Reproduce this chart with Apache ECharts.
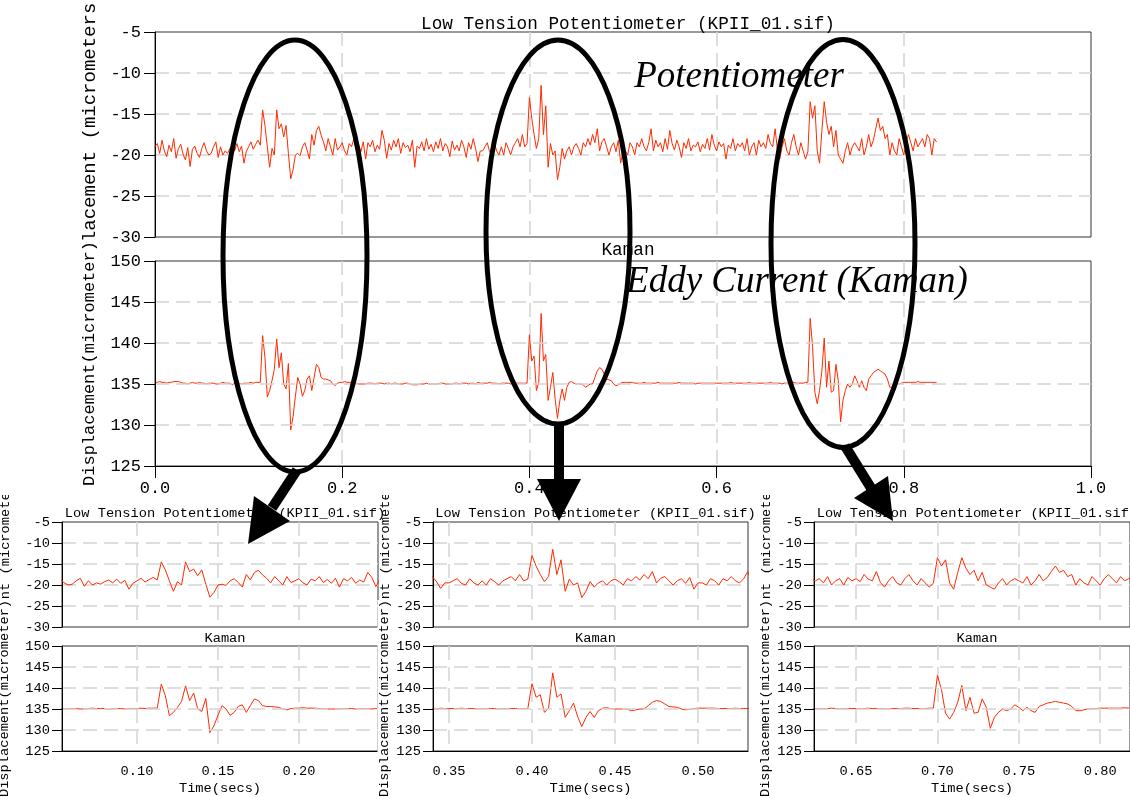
<!DOCTYPE html>
<html>
<head>
<meta charset="utf-8">
<title>Low Tension Potentiometer vs Kaman</title>
<script src="https://cdn.jsdelivr.net/npm/echarts@6/dist/echarts.min.js"></script>
<style>
  html, body { margin: 0; padding: 0; background: #fff; }
  #chart { width: 1130px; height: 799px; }
</style>
</head>
<body>
<div id="chart"></div>
<script>
// Sample spacing of both recordings (seconds)
const TIME_STEP = 0.0025;

// Low tension potentiometer displacement, one row per 0.05 s
const potentiometer = [
  -19.0,-18.6,-19.8,-18.2,-19.5,-20.2,-18.8,-19.6,-18.0,-20.4,-19.2,-18.7,-19.9,-20.6,-19.1,-21.4,-19.3,-18.9,-19.8,-20.3,
  -19.2,-18.5,-19.5,-20.0,-19.8,-19.0,-18.4,-20.3,-19.0,-20.0,-19.5,-19.8,-19.2,-18.8,-19.5,-18.6,-19.6,-18.9,-21.0,-19.6,
  -19.0,-18.4,-19.3,-18.7,-18.2,-18.8,-14.5,-16.4,-19.0,-21.5,-19.2,-20.0,-14.5,-16.8,-16.2,-17.8,-16.4,-19.8,-22.9,-21.8,
  -20.0,-19.8,-20.1,-19.0,-18.5,-19.4,-20.5,-17.5,-18.8,-17.0,-16.5,-17.6,-18.4,-19.5,-18.0,-19.0,-20.0,-18.0,-19.4,-19.0,
  -18.5,-19.5,-20.0,-18.6,-19.0,-18.0,-19.4,-18.7,-19.6,-18.4,-20.5,-18.5,-19.0,-18.2,-19.6,-18.8,-19.3,-17.0,-18.2,-20.4,
  -18.6,-19.4,-18.2,-19.0,-18.0,-19.8,-18.5,-19.1,-18.8,-19.6,-18.2,-21.5,-18.9,-19.2,-18.4,-19.5,-18.0,-19.3,-18.7,-19.6,
  -18.4,-19.2,-18.0,-19.5,-18.6,-19.0,-20.2,-18.3,-19.4,-18.8,-19.5,-18.2,-19.0,-20.3,-18.5,-19.3,-18.0,-19.2,-20.8,-19.5,
  -19.5,-19.0,-18.5,-19.6,-20.0,-18.5,-19.5,-20.0,-19.0,-20.0,-18.5,-19.2,-20.0,-19.0,-18.5,-18.0,-19.0,-17.5,-19.0,-18.6,
  -13.0,-15.5,-17.5,-19.2,-18.0,-11.5,-17.5,-14.0,-21.5,-18.6,-20.0,-19.5,-23.0,-21.5,-19.2,-20.5,-19.5,-19.0,-20.0,-19.0,
  -18.6,-19.2,-20.0,-18.5,-19.0,-18.0,-18.8,-17.5,-18.5,-16.8,-19.5,-18.4,-18.0,-19.0,-20.0,-19.0,-18.5,-19.6,-18.2,-21.0,
  -19.5,-19.5,-20.0,-18.5,-19.0,-20.0,-18.5,-19.0,-18.0,-19.0,-19.5,-18.5,-16.8,-19.5,-18.2,-19.0,-18.5,-19.6,-18.0,-19.3,
  -17.0,-18.6,-19.4,-18.2,-19.0,-20.3,-18.5,-19.2,-18.0,-19.5,-18.8,-19.0,-18.4,-19.6,-18.7,-19.2,-18.0,-19.4,-17.5,-18.8,
  -19.5,-18.4,-19.0,-18.6,-20.5,-18.8,-19.2,-18.0,-19.5,-18.6,-19.0,-18.5,-19.5,-18.0,-20.0,-19.0,-18.5,-20.0,-18.2,-19.0,
  -18.5,-19.2,-17.5,-18.6,-19.0,-16.8,-19.4,-20.5,-19.0,-18.0,-19.5,-20.0,-18.5,-17.5,-19.0,-20.0,-18.5,-19.5,-20.5,-19.6,
  -13.5,-15.5,-14.0,-19.5,-21.0,-17.0,-13.5,-16.0,-17.5,-16.5,-19.0,-17.0,-20.0,-20.5,-21.0,-19.5,-18.5,-20.0,-19.0,-18.5,
  -19.0,-19.5,-18.0,-20.0,-19.0,-17.5,-19.0,-18.2,-16.8,-15.5,-17.0,-16.5,-18.0,-17.5,-20.0,-18.5,-19.5,-20.0,-18.0,-19.0,
  -20.0,-18.5,-17.5,-18.5,-19.5,-18.0,-19.0,-18.5,-18.0,-19.0,-17.5,-18.0,-20.0,-18.0,-18.4
];

// Kaman eddy current displacement, same time base
const kaman = [
  135.2,135.2,135.3,135.2,135.2,135.1,135.2,135.2,135.3,135.3,135.3,135.2,135.1,135.1,135.0,135.1,135.2,135.1,135.1,135.2,
  135.1,135.1,135.0,135.1,135.1,135.1,135.0,135.0,135.1,135.2,135.1,135.1,135.1,134.9,135.1,135.1,135.1,135.0,135.1,135.1,
  135.1,135.2,135.1,135.2,135.2,135.2,140.9,138.2,133.4,134.2,135.4,136.8,140.5,137.0,138.8,135.0,134.4,137.5,129.4,131.0,
  133.5,135.8,135.0,133.5,134.2,135.6,136.0,134.2,135.8,137.4,137.0,135.8,135.6,135.6,135.5,135.4,135.0,134.8,135.1,135.2,
  135.2,135.3,135.2,135.2,135.2,135.1,135.1,135.0,135.0,135.0,135.0,135.1,135.1,135.1,135.0,135.1,135.1,135.1,135.0,135.1,
  135.1,135.0,135.1,135.1,135.0,135.0,135.0,135.1,135.1,135.0,134.9,134.9,134.9,135.0,135.0,135.0,135.1,135.0,135.0,135.0,
  135.0,135.0,135.1,135.1,135.0,135.0,135.0,135.0,135.1,135.1,135.0,135.1,135.1,135.1,135.0,135.1,135.1,135.0,135.2,135.1,
  135.1,135.1,135.1,135.2,135.1,135.1,135.1,135.0,135.1,135.1,135.1,135.1,135.0,135.1,135.1,135.1,135.1,135.1,135.1,135.1,
  141.0,137.8,138.4,134.2,135.2,143.6,137.8,138.6,133.0,134.6,136.4,133.2,130.8,133.0,134.4,133.0,134.6,135.2,135.3,135.1,
  135.0,135.0,135.0,134.9,134.6,134.8,135.0,135.0,135.8,136.6,137.0,136.8,136.2,135.6,135.5,135.4,135.0,134.8,134.9,135.1,
  135.2,135.2,135.2,135.2,135.2,135.1,135.1,135.1,135.1,135.2,135.1,135.1,135.1,135.1,135.1,135.2,135.1,135.1,135.1,135.1,
  135.1,135.1,135.1,135.1,135.2,135.1,135.1,135.1,135.1,135.1,135.1,135.0,135.1,135.1,135.1,135.1,135.1,135.1,135.1,135.1,
  135.1,135.1,135.1,135.1,135.1,135.1,135.2,135.1,135.1,135.1,135.1,135.1,135.1,135.1,135.2,135.1,135.1,135.1,135.1,135.1,
  135.1,135.1,135.1,135.2,135.1,135.1,135.1,135.1,135.0,135.1,135.1,135.1,135.2,135.2,135.1,135.1,135.1,135.1,135.2,135.2,
  143.0,139.6,134.0,132.6,134.2,136.6,140.6,134.6,137.8,134.0,134.2,137.4,135.4,130.4,133.0,134.2,135.0,134.6,135.0,136.0,
  135.4,134.6,135.4,134.6,134.2,135.6,136.0,136.4,136.6,136.8,136.6,136.4,136.2,135.6,134.6,134.6,134.8,135.0,135.0,135.1,
  135.2,135.2,135.2,135.2,135.2,135.2,135.3,135.2,135.2,135.2,135.2,135.2,135.2,135.2,135.2
];

// Axis extents
const mainTimeRange = [0, 1];
const detailTimeRanges = [[0.0537, 0.2488], [0.3404, 0.5301], [0.6242, 0.8183]];
const potentiometerRange = [-30, -5];
const kamanRange = [125, 150];

// Texts
const potentiometerTitle = 'Low Tension Potentiometer (KPII_01.sif)';
const kamanTitle = 'Kaman';
const potentiometerAxisName = 'Displacement (micrometers)';
const kamanAxisName = 'Displacement(micrometer)';
const timeAxisName = 'Time(secs)';
const calloutLabels = ['Potentiometer', 'Eddy Current (Kaman)'];

// ---------------------------------------------------------------------------
const MONO = '"Liberation Mono", "DejaVu Sans Mono", monospace';
const LINE_COLOR = '#ff2a00';
const GRID_LINE = { color: '#d4d4d4', type: [14, 7], width: 1.5 };

const potSeriesData = potentiometer.map((v, i) => [+(i * TIME_STEP).toFixed(4), v]);
const kamanSeriesData = kaman.map((v, i) => [+(i * TIME_STEP).toFixed(4), v]);

const option = {
  animation: false,
  backgroundColor: '#fff',
  title: [],
  grid: [],
  xAxis: [],
  yAxis: [],
  series: [],
  graphic: []
};

// One stacked pair of plots (potentiometer above, Kaman below)
function addPair(p) {
  const gTop = option.grid.length;
  const gBot = gTop + 1;
  [p.topY, p.botY].forEach(function (top) {
    option.grid.push({
      left: p.left, top: top, width: p.width, height: p.height,
      containLabel: false, outerBoundsMode: 'none',
      show: true, borderColor: '#333', borderWidth: 1, backgroundColor: 'transparent'
    });
  });

  const xCommon = function (gi, isBottom) {
    const ax = {
      type: 'value', gridIndex: gi, min: p.xRange[0], max: p.xRange[1],
      axisLine: { show: isBottom, lineStyle: { color: '#000', width: 1 } },
      axisTick: { show: isBottom && p.xTickLen > 0, length: p.xTickLen, lineStyle: { color: '#000' } },
      axisLabel: {
        show: isBottom, fontFamily: MONO, fontSize: p.tickFont, color: '#000', margin: p.xLabelMargin,
        showMinLabel: p.showEnds, showMaxLabel: p.showEnds,
        formatter: function (v) { return v.toFixed(p.xDigits); }
      },
      splitLine: { show: true, showMinLine: false, showMaxLine: false, lineStyle: GRID_LINE }
    };
    if (p.xInterval) { ax.interval = p.xInterval; } else { ax.splitNumber = p.xSplit; }
    if (isBottom && p.xName) {
      ax.name = p.xName; ax.nameLocation = 'middle'; ax.nameGap = p.xNameGap;
      ax.nameTextStyle = { fontFamily: MONO, fontSize: p.tickFont, color: '#000' };
    }
    return ax;
  };
  option.xAxis.push(xCommon(gTop, false), xCommon(gBot, true));

  const yCommon = function (gi, range, name, isBottom) {
    return {
      type: 'value', gridIndex: gi, min: range[0], max: range[1], interval: 5,
      z: isBottom ? 4 : 2,
      axisLine: { show: true, lineStyle: { color: '#000', width: 1 } },
      axisTick: { show: true, length: p.yTickLen, lineStyle: { color: '#000' } },
      axisLabel: { fontFamily: MONO, fontSize: p.tickFont, color: '#000', margin: p.yLabelMargin },
      splitLine: { show: true, showMinLine: false, showMaxLine: false, lineStyle: GRID_LINE },
      name: name, nameLocation: 'middle', nameRotate: 90, nameGap: p.yNameGap,
      nameTextStyle: isBottom
        ? { fontFamily: MONO, fontSize: p.nameFont, color: '#000', backgroundColor: '#fff', padding: [0, 0, 1, 0] }
        : { fontFamily: MONO, fontSize: p.topNameFont, color: '#000', padding: p.topNamePadding }
    };
  };
  option.yAxis.push(
    yCommon(gTop, potentiometerRange, potentiometerAxisName, false),
    yCommon(gBot, kamanRange, kamanAxisName, true)
  );

  option.series.push(
    { type: 'line', xAxisIndex: gTop, yAxisIndex: gTop, data: potSeriesData, showSymbol: false,
      lineStyle: { color: LINE_COLOR, width: 1 }, clip: true, silent: true },
    { type: 'line', xAxisIndex: gBot, yAxisIndex: gBot, data: kamanSeriesData, showSymbol: false,
      lineStyle: { color: LINE_COLOR, width: 1 }, clip: true, silent: true }
  );

  const cx = p.left + p.width / 2;
  option.title.push(
    { text: potentiometerTitle, left: cx, top: p.titleTop, textAlign: 'center',
      textStyle: { fontFamily: MONO, fontSize: p.titleFont, fontWeight: 'normal', color: '#000' } },
    { text: kamanTitle, left: cx, top: p.subTitleTop, textAlign: 'center',
      textStyle: { fontFamily: MONO, fontSize: p.titleFont, fontWeight: 'normal', color: '#000' } }
  );
}

// Full record
addPair({
  left: 155, width: 936, topY: 32, botY: 261, height: 205,
  xRange: mainTimeRange, xInterval: 0.2, xDigits: 1, showEnds: true,
  xTickLen: 12, xLabelMargin: 14, yTickLen: 11, yLabelMargin: 14,
  tickFont: 17, titleFont: 17.7, nameFont: 17, yNameGap: 49,
  topNameFont: 19, topNamePadding: [0, 10, 0, 0],
  titleTop: 10, subTitleTop: 236
});

// Close-ups of the three disturbances
const detailLefts = [62, 433, 814];
const detailWidths = [316, 315, 316];
const detailNameGaps = [50, 40, 41];
detailTimeRanges.forEach(function (r, i) {
  addPair({
    left: detailLefts[i], width: detailWidths[i], topY: 522, botY: 646, height: 105,
    xRange: r, xSplit: 4, xDigits: 2, showEnds: false,
    xTickLen: 0, xLabelMargin: 13, yTickLen: 10, yLabelMargin: 12,
    tickFont: 13.7, titleFont: 13.7, nameFont: 13.7, yNameGap: detailNameGaps[i],
    topNameFont: 13.7, topNamePadding: 0,
    xName: timeAxisName, xNameGap: 30,
    titleTop: 501, subTitleTop: 626
  });
});

// Close-up panels start at y = 495: hide what spills above them
[[0, 18], [374, 398], [754, 778]].forEach(function (c) {
  option.graphic.push({
    type: 'rect', z: 50, silent: true,
    shape: { x: c[0], y: 467.5, width: c[1] - c[0], height: 27.5 },
    style: { fill: '#fff' }
  });
});

// Callout annotations
const calloutFont = 'italic 37px "Liberation Serif", "Times New Roman", serif';
option.graphic.push(
  { type: 'text', z: 90, silent: true, x: 739, y: 77.5,
    style: { text: calloutLabels[0], font: calloutFont, fill: '#000', align: 'center', verticalAlign: 'middle' } },
  { type: 'text', z: 90, silent: true, x: 797, y: 282.5,
    style: { text: calloutLabels[1], font: calloutFont, fill: '#000', align: 'center', verticalAlign: 'middle' } }
);

const ringStyle = { fill: 'none', stroke: '#000', lineWidth: 5 };
[[295, 256, 72, 216], [558, 232, 72, 192], [843, 243.5, 72, 204]].forEach(function (e) {
  option.graphic.push({ type: 'ellipse', z: 100, silent: true,
    shape: { cx: e[0], cy: e[1], rx: e[2], ry: e[3] }, style: ringStyle });
});

const arrows = [
  { from: [297, 470], to: [272, 508], head: [[254, 496], [290, 521], [248, 544]] },
  { from: [559, 424], to: [559, 481], head: [[537, 479], [581, 479], [559, 521]] },
  { from: [845, 446], to: [871, 488], head: [[854, 498], [888, 476], [893, 521]] }
];
arrows.forEach(function (a) {
  option.graphic.push(
    { type: 'line', z: 100, silent: true,
      shape: { x1: a.from[0], y1: a.from[1], x2: a.to[0], y2: a.to[1] },
      style: { stroke: '#000', lineWidth: 10 } },
    { type: 'polygon', z: 100, silent: true,
      shape: { points: a.head }, style: { fill: '#000' } }
  );
});

const chart = echarts.init(document.getElementById('chart'), null, { renderer: 'canvas' });
chart.setOption(option);
</script>
</body>
</html>
